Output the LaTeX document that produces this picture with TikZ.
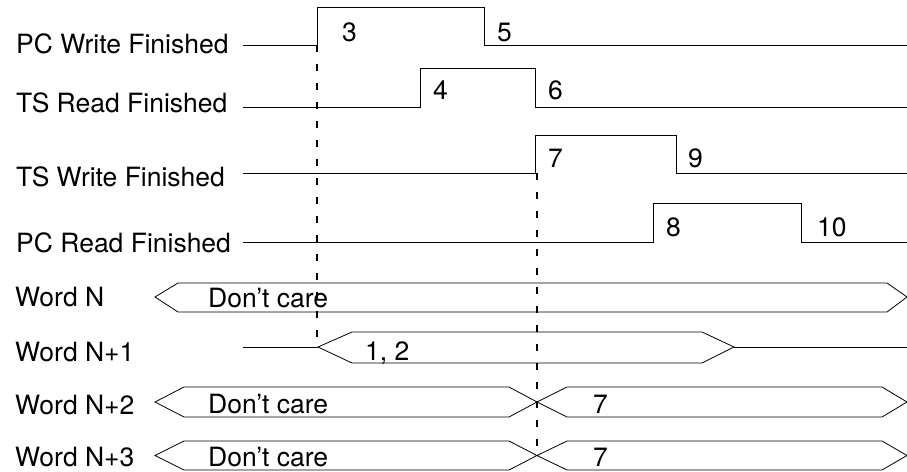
\documentclass[tikz,border=0pt]{standalone}
\usepackage{fontspec}
\setmainfont{TeX Gyre Heros}
\begin{document}
\begin{tikzpicture}[
      x=1pt, y=-1pt,
      font=\fontsize{26.5}{31}\selectfont,
      signal/.style={line width=0.9pt, line join=miter},
      bus/.style={line width=0.8pt},
      hilfslinie/.style={line width=2.4pt, dash pattern=on 7pt off 12pt},
      beschr/.style={anchor=base west, inner sep=0pt}
    ]
      \useasboundingbox (0,0) rectangle (907,471);

      \node[beschr] (pcw) at (16,53) {PC Write Finished};
      \draw[signal] (243,45) -- (317,45) -- (317,7) -- (484,7) -- (484,45) -- (907,45);
      \node[beschr] (pcw3) at (342,41) {3};
      \node[beschr] (pcw5) at (497,41) {5};

      \node[beschr] (tsr) at (16,112) {TS Read Finished};
      \draw[signal] (243,107) -- (420,107) -- (420,68) -- (535,68) -- (535,107) -- (907,107);
      \node[beschr] (tsr4) at (433,99) {4};
      \node[beschr] (tsr6) at (548,99) {6};

      \node[beschr] (tsw) at (16,186) {TS Write Finished};
      \draw[signal] (243,173) -- (535,173) -- (535,135) -- (676,135) -- (676,173) -- (907,173);
      \node[beschr] (tsw7) at (548,167) {7};
      \node[beschr] (tsw9) at (688,167) {9};

      \node[beschr] (pcr) at (16,252) {PC Read Finished};
      \draw[signal] (243,242) -- (653,242) -- (653,203) -- (801,203) -- (801,242) -- (907,242);
      \node[beschr] (pcr8) at (666,236) {8};
      \node[beschr] (pcr10) at (817,236) {10};

      \node[beschr] (wn) at (15,306) {Word N};
      \draw[bus] (155,297) -- (178,283) -- (887,283) -- (907,297) -- (887,312) -- (178,312) -- cycle;
      \node[beschr] (wnt) at (208,307) {Don’t care};

      \node[beschr] (wn1) at (15,361) {Word N+1};
      \draw[bus] (243,347) -- (318,347);
      \draw[bus] (318,347) -- (352,332) -- (702,332) -- (734,347) -- (702,363) -- (352,363) -- cycle;
      \draw[bus] (734,347) -- (907,347);
      \node[beschr] (wn1t) at (365,360) {1, 2};

      \node[beschr] (wn2) at (15,414) {Word N+2};
      \draw[bus] (155,402) -- (184,387) -- (509,387) -- (537,402) -- (509,417) -- (184,417) -- cycle;
      \draw[bus] (537,402) -- (567,387) -- (882,387) -- (907,402) -- (882,417) -- (567,417) -- cycle;
      \node[beschr] (wn2t) at (208,413) {Don’t care};
      \node[beschr] (wn2v) at (593,413) {7};

      \node[beschr] (wn3) at (15,466) {Word N+3};
      \draw[bus] (155,455.5) -- (184,441) -- (509,441) -- (537,455.5) -- (509,470) -- (184,470) -- cycle;
      \draw[bus] (537,455.5) -- (567,441) -- (882,441) -- (907,455.5) -- (882,470) -- (567,470) -- cycle;
      \node[beschr] (wn3t) at (208,466) {Don’t care};
      \node[beschr] (wn3v) at (593,466) {7};

      \draw[hilfslinie] (317,45) -- (317,348);
      \draw[hilfslinie] (537,173) -- (537,457);
    \end{tikzpicture}
\end{document}
